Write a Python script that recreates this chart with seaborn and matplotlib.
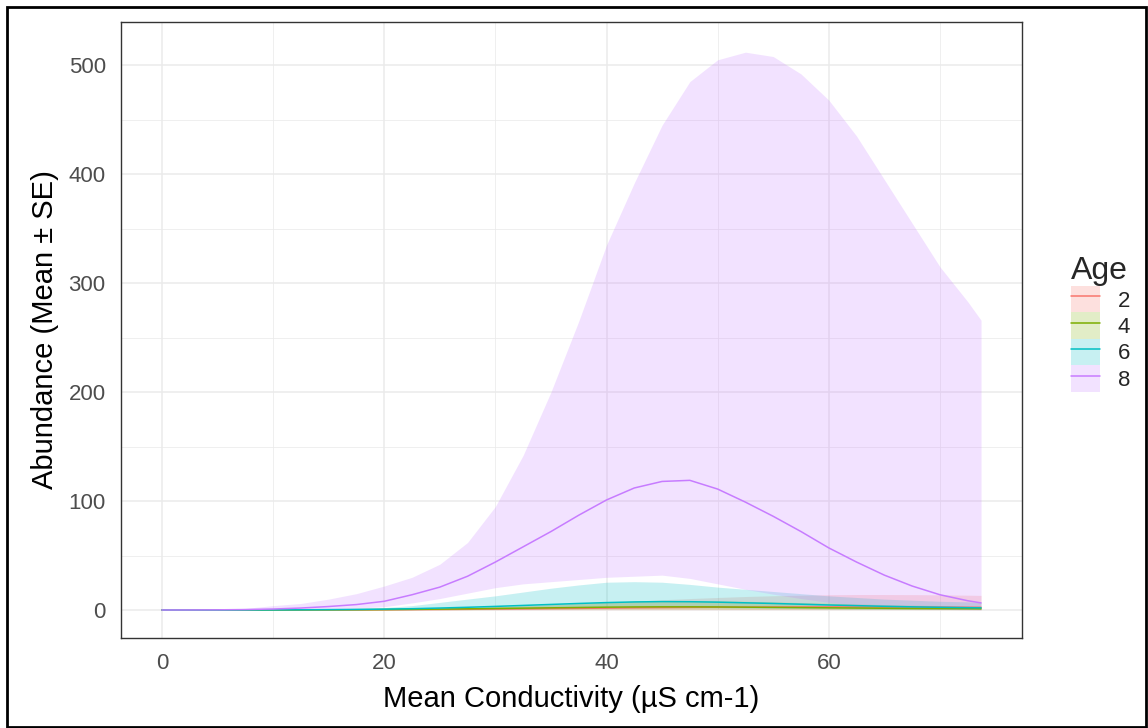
import numpy as np
import pandas as pd
import seaborn as sns
import matplotlib.pyplot as plt
from matplotlib.patches import Patch, Rectangle
from matplotlib.lines import Line2D

# conductivity grid (x) and model predictions per age class
conductivity = [0, 2.5, 5, 7.5, 10, 12.5, 15, 17.5, 20, 22.5, 25, 27.5, 30, 32.5, 35,
                37.5, 40, 42.5, 45, 47.5, 50, 52.5, 55, 57.5, 60, 62.5, 65, 67.5, 70, 72.5, 73.7]

age2_mean = [0, 0, 0, 0, 0.02, 0.05, 0.1, 0.15, 0.25, 0.35, 0.5, 0.65, 0.85, 1.05, 1.3, 1.5,
             1.75, 2, 2.2, 2.4, 2.6, 2.7, 2.8, 2.85, 2.85, 2.8, 2.75, 2.7, 2.6, 2.5, 2.45]
age2_low = [0, 0, 0, 0, 0, 0.01, 0.02, 0.03, 0.05, 0.07, 0.1, 0.12, 0.15, 0.18, 0.2, 0.22,
            0.25, 0.27, 0.29, 0.3, 0.31, 0.31, 0.31, 0.3, 0.3, 0.29, 0.28, 0.27, 0.26, 0.25, 0.25]
age2_high = [0, 0, 0, 0.05, 0.1, 0.2, 0.3, 0.5, 0.8, 1.2, 1.7, 2.3, 3, 3.8, 4.8, 5.8,
             7, 8.2, 9.4, 10.5, 11.5, 12.4, 13.1, 13.6, 14, 14.2, 14.2, 14.1, 13.9, 13.6, 13.4]

age4_mean = [0, 0, 0, 0, 0.05, 0.1, 0.15, 0.25, 0.4, 0.6, 0.8, 1.1, 1.4, 1.7, 2, 2.3,
             2.6, 2.8, 2.9, 2.9, 2.8, 2.6, 2.4, 2.2, 2, 1.8, 1.6, 1.4, 1.3, 1.2, 1.1]
age4_low = [0, 0, 0, 0, 0, 0.02, 0.04, 0.06, 0.1, 0.15, 0.2, 0.3, 0.4, 0.5, 0.6, 0.7,
            0.8, 0.85, 0.9, 0.9, 0.85, 0.8, 0.75, 0.7, 0.6, 0.55, 0.5, 0.45, 0.4, 0.35, 0.3]
age4_high = [0, 0, 0, 0.05, 0.1, 0.2, 0.35, 0.6, 0.9, 1.3, 1.8, 2.5, 3.3, 4.2, 5.2, 6.2,
             7.2, 8, 8.5, 8.6, 8.4, 8, 7.4, 6.8, 6.2, 5.6, 5, 4.5, 4.1, 3.7, 3.5]

age6_mean = [0, 0, 0, 0.05, 0.1, 0.2, 0.35, 0.55, 0.8, 1.2, 1.8, 2.5, 3.3, 4.2, 5.1, 6,
             6.8, 7.4, 7.7, 7.6, 7.2, 6.6, 6, 5.3, 4.6, 4, 3.4, 2.9, 2.5, 2.1, 2]
age6_low = [0, 0, 0, 0, 0, 0.05, 0.1, 0.15, 0.25, 0.35, 0.5, 0.7, 0.9, 1.1, 1.4, 1.6,
            1.8, 2, 2.1, 2.1, 2, 1.8, 1.6, 1.4, 1.2, 1, 0.8, 0.7, 0.6, 0.5, 0.45]
age6_high = [0, 0.05, 0.1, 0.2, 0.4, 0.7, 1, 1.5, 2.2, 4, 7, 10, 13, 16.5, 20, 23,
             25.5, 26, 25.5, 23.5, 21, 19, 17, 15, 13, 11.5, 10, 9, 8, 7.5, 7]

age8_mean = [0, 0.05, 0.15, 0.4, 0.9, 1.8, 3.2, 5, 8, 14, 21, 31, 44, 58, 72, 87,
             101, 112, 118, 119, 111, 99, 86, 72, 57, 44, 32, 22, 14, 8.5, 6.5]
age8_low = [0, 0, 0.05, 0.1, 0.2, 0.5, 1, 1.7, 3, 6.5, 10.5, 15.5, 20.5, 24, 26, 28,
            30, 31, 32, 29, 24, 19, 14.5, 10.5, 7, 4.5, 2.6, 1.4, 0.6, 0.25, 0.16]
age8_high = [0, 0.2, 0.6, 1.5, 4, 6, 10, 15, 22, 30, 42, 62, 95, 142, 200, 265,
             335, 392, 445, 485, 505, 512, 508, 492, 468, 435, 395, 355, 315, 283, 266]

ages = [2, 4, 6, 8]
means = [age2_mean, age4_mean, age6_mean, age8_mean]
lows = [age2_low, age4_low, age6_low, age8_low]
highs = [age2_high, age4_high, age6_high, age8_high]

frames = []
for a, m, lo, hi in zip(ages, means, lows, highs):
    frames.append(pd.DataFrame({"Conductivity": conductivity, "Age": a,
                                "mean": m, "low": lo, "high": hi}))
df = pd.concat(frames, ignore_index=True)

colors = {2: "#F8766D", 4: "#7CAE00", 6: "#00BFC4", 8: "#C77CFF"}
ribbon_alpha = 0.22

sns.set_style("white")
plt.rcParams["font.family"] = ["Liberation Sans", "DejaVu Sans"]

fig = plt.figure(figsize=(11.48, 7.28), dpi=100)
ax = fig.add_axes([121 / 1148, 1 - 638 / 728, (1022 - 121) / 1148, (638 - 22) / 728])

# ribbons
for a in ages:
    g = df[df["Age"] == a]
    ax.fill_between(g["Conductivity"], g["low"], g["high"], color=colors[a],
                    alpha=ribbon_alpha, linewidth=0, zorder=2)

# mean lines
sns.lineplot(data=df, x="Conductivity", y="mean", hue="Age", palette=colors,
             estimator=None, legend=False, linewidth=1.1, ax=ax, zorder=3)

ax.set_xlim(-3.685, 77.385)
ax.set_ylim(-25.7, 539.7)
ax.set_xticks([0, 20, 40, 60])
ax.set_xticks([10, 30, 50, 70], minor=True)
ax.set_yticks([0, 100, 200, 300, 400, 500])
ax.set_yticks([50, 150, 250, 350, 450], minor=True)

ax.grid(True, which="major", color="#EBEBEB", linewidth=1.1, zorder=0)
ax.grid(True, which="minor", color="#EBEBEB", linewidth=0.55, zorder=0)
ax.set_axisbelow(True)
for s in ax.spines.values():
    s.set_color("#333333")
    s.set_linewidth(1.0)

ax.tick_params(which="major", direction="out", length=5, width=1.1, color="#333333",
               labelsize=16, labelcolor="#4D4D4D", pad=6)
ax.tick_params(which="minor", length=0)

ax.set_xlabel("Mean Conductivity (µS cm-1)", fontsize=21, color="black", labelpad=8)
ax.set_ylabel("Abundance (Mean ± SE)", fontsize=21, color="black", labelpad=7)

handles = [(Patch(facecolor=colors[a], alpha=ribbon_alpha, edgecolor="none"),
            Line2D([], [], color=colors[a], linewidth=1.1)) for a in ages]
leg = fig.legend(handles, [str(a) for a in ages], title="Age", loc="upper left",
                 bbox_to_anchor=(1060 / 1148, 1 - 245 / 728), frameon=False,
                 fontsize=16, title_fontsize=23, handlelength=1.3, handleheight=1.45,
                 labelspacing=0.0, handletextpad=0.8, borderpad=0, alignment="left")

# outer frame around the figure
fig.patches.append(Rectangle((0.006, 0.002), 0.992, 0.989, transform=fig.transFigure,
                             fill=False, edgecolor="black", linewidth=2))

fig.savefig("out.png", dpi=100)
